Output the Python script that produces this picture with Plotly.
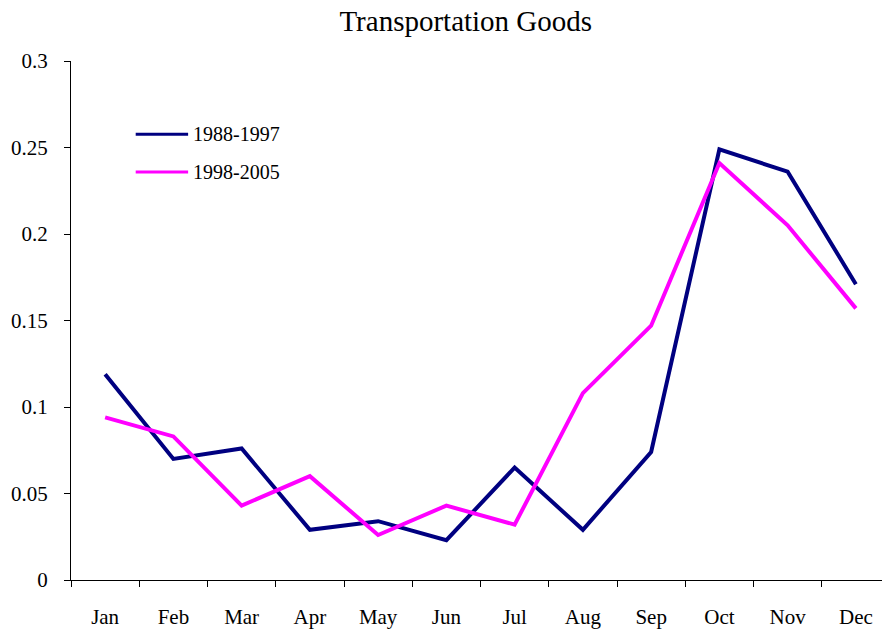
import plotly.graph_objects as go

months = ["Jan", "Feb", "Mar", "Apr", "May", "Jun", "Jul", "Aug", "Sep", "Oct", "Nov", "Dec"]
series_names = ["1988-1997", "1998-2005"]
vals_1988_1997 = [0.119, 0.070, 0.076, 0.029, 0.034, 0.023, 0.065, 0.029, 0.074, 0.249, 0.236, 0.171]
vals_1998_2005 = [0.094, 0.083, 0.043, 0.060, 0.026, 0.043, 0.032, 0.108, 0.147, 0.241, 0.205, 0.157]
y_ticks = [0, 0.05, 0.1, 0.15, 0.2, 0.25, 0.3]
y_ticktext = ["0", "0.05", "0.1", "0.15", "0.2", "0.25", "0.3"]
colors = ["#000080", "#FF00FF"]

font = "Liberation Serif, Times New Roman, serif"

fig = go.Figure()
for name, vals, c in zip(series_names, [vals_1988_1997, vals_1998_2005], colors):
    fig.add_trace(go.Scatter(x=months, y=vals, mode="lines", name=name,
                             line=dict(color=c, width=4), showlegend=False))

# legend drawn with shapes/annotations in paper coordinates
leg_y = [0.859, 0.786]
for name, c, yy in zip(series_names, colors, leg_y):
    fig.add_shape(type="line", xref="paper", yref="paper", x0=0.079, x1=0.143, y0=yy, y1=yy,
                  line=dict(color=c, width=3))
    fig.add_annotation(xref="paper", yref="paper", x=0.146, y=yy, text=name, showarrow=False,
                       xanchor="left", yanchor="middle", font=dict(family=font, size=20, color="black"))

# page body has an 8px default margin; size the figure to fit the 890x632 window
fig.update_layout(
    width=882, height=624,
    margin=dict(l=63, r=0, t=53, b=52),
    paper_bgcolor="white", plot_bgcolor="white",
    title=dict(text="Transportation Goods", x=0.519, xanchor="center", y=0.979, yanchor="middle",
               font=dict(family=font, size=29, color="black"), automargin=False),
    font=dict(family=font, size=21, color="black"),
    xaxis=dict(type="category", range=[-0.5, 11.5], showline=True, linecolor="black", linewidth=1,
               ticks="outside", ticklen=6, tickcolor="black", tickson="boundaries",
               showgrid=False, zeroline=False, ticklabelstandoff=18, automargin=False,
               tickfont=dict(family=font, size=21)),
    yaxis=dict(range=[0, 0.3], tickvals=y_ticks, ticktext=y_ticktext, showline=True,
               linecolor="black", linewidth=1, ticks="outside", ticklen=6, tickcolor="black",
               showgrid=False, zeroline=False, ticklabelstandoff=12, automargin=False,
               tickfont=dict(family=font, size=21)),
)

fig.write_html("out.html")
